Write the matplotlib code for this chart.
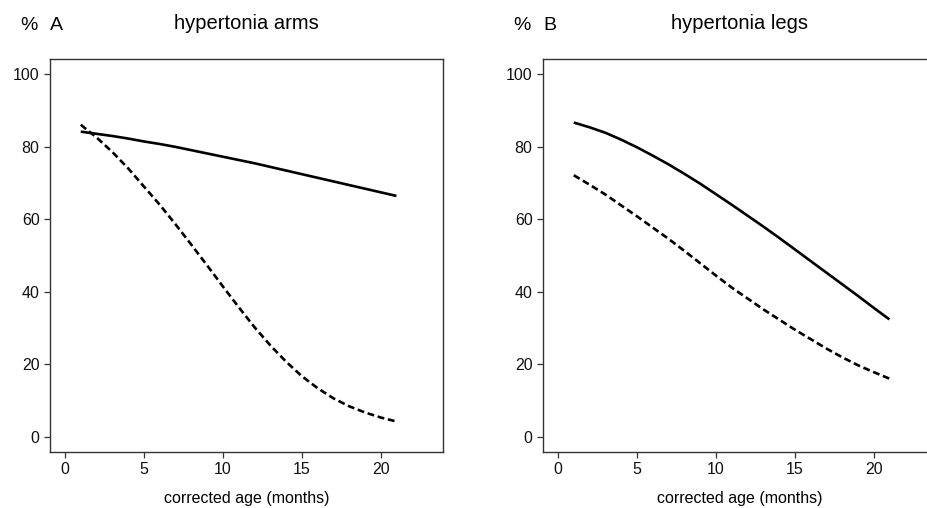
import matplotlib
matplotlib.use("Agg")
import matplotlib.pyplot as plt

# Data (corrected age in months, percentage)
age = list(range(1, 22))

arms_solid = [84.1, 83.5, 82.9, 82.2, 81.4, 80.7, 79.9, 79.0, 78.1, 77.2, 76.3,
              75.4, 74.4, 73.4, 72.4, 71.4, 70.4, 69.4, 68.4, 67.4, 66.4]
arms_dashed = [86.0, 82.5, 78.5, 74.0, 69.0, 64.0, 58.6, 53.0, 47.3, 41.5, 35.8,
               30.3, 25.3, 20.8, 16.8, 13.5, 10.7, 8.5, 6.8, 5.4, 4.3]

legs_solid = [86.6, 85.3, 83.8, 81.9, 79.8, 77.5, 75.1, 72.5, 69.8, 66.9, 64.0,
              61.0, 58.0, 54.9, 51.7, 48.5, 45.3, 42.1, 38.9, 35.6, 32.4]
legs_dashed = [72.1, 69.5, 66.8, 63.8, 60.8, 57.7, 54.6, 51.3, 47.9, 44.5, 41.2,
               38.2, 35.2, 32.4, 29.6, 27.0, 24.4, 22.0, 19.8, 17.9, 16.1]

x_ticks = [0, 5, 10, 15, 20]
y_ticks = [0, 20, 40, 60, 80, 100]

panels = [
    ("A", "hypertonia arms", arms_solid, arms_dashed),
    ("B", "hypertonia legs", legs_solid, legs_dashed),
]

plt.rcParams['font.family'] = ['Liberation Sans', 'DejaVu Sans']

W, H = 928, 508
fig = plt.figure(figsize=(W / 100, H / 100), dpi=100)

# axes boxes in pixels: left, top, right, bottom
boxes = [(50, 59, 443, 452), (543, 59, 936, 452)]

for (letter, title, solid, dashed), (l, t, r, b) in zip(panels, boxes):
    ax = fig.add_axes([l / W, 1 - b / H, (r - l) / W, (b - t) / H])
    ax.plot(age, solid, color='black', linewidth=1.9, solid_capstyle='butt')
    ax.plot(age, dashed, color='black', linewidth=1.9, dashes=(2.6, 1.4))

    ax.set_xlim(-0.95, 23.95)
    ax.set_ylim(-4.1, 104.1)
    ax.set_xticks(x_ticks)
    ax.set_yticks(y_ticks)
    ax.tick_params(labelsize=11.5, length=4.5, width=0.9, pad=3,
                   color='#333333', labelcolor='#111111')
    for s in ax.spines.values():
        s.set_color('#333333')
        s.set_linewidth(1.0)

    ax.set_xlabel("corrected age (months)", fontsize=11.5, labelpad=9.5)

    # title and panel letter above the axes
    fig.text((l + r) / 2 / W, 1 - 29 / H, title, fontsize=14.5,
             ha='center', va='baseline')
    fig.text((l - 30) / W, 1 - 30 / H, "%", fontsize=14,
             ha='left', va='baseline')
    fig.text(l / W, 1 - 30 / H, letter, fontsize=14,
             ha='left', va='baseline')

fig.savefig("out.png", dpi=100)
